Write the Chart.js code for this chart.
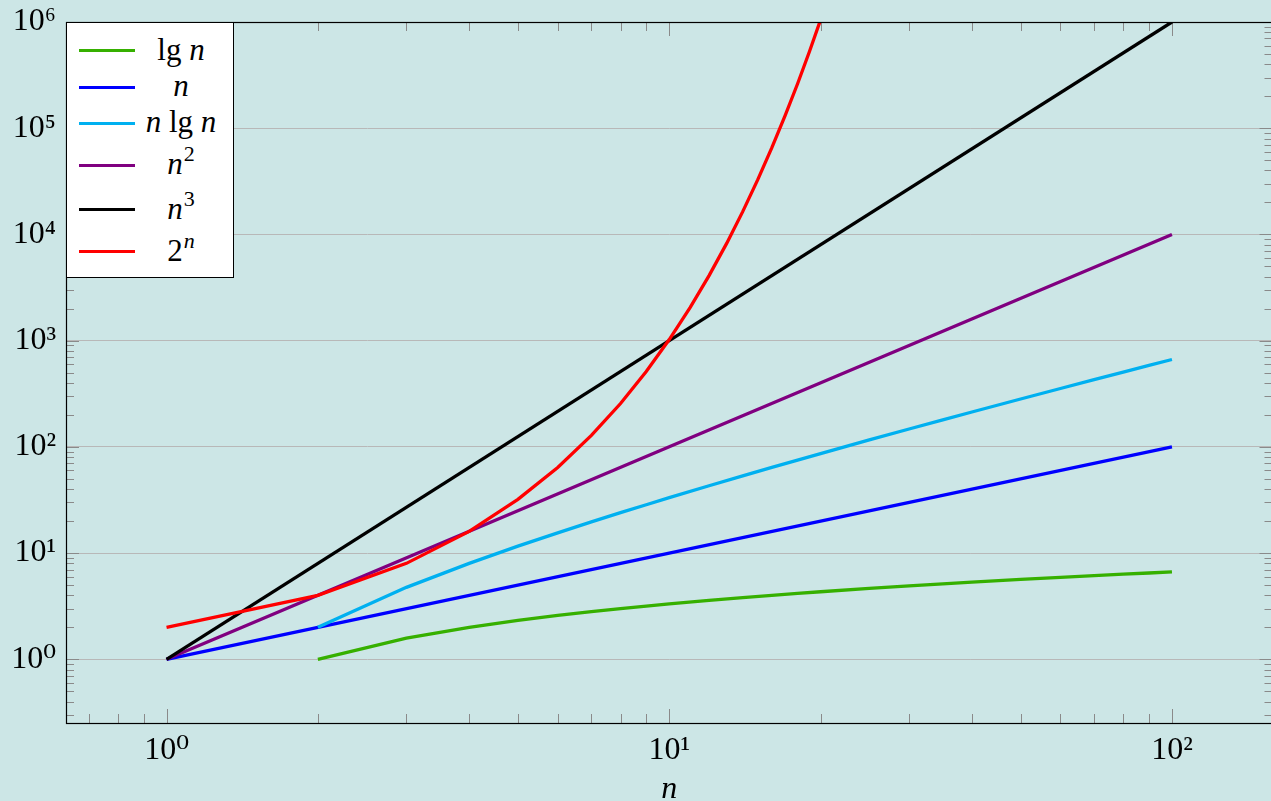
<!DOCTYPE html>
<html>
<head>
<meta charset="utf-8">
<script src="https://cdn.jsdelivr.net/npm/chart.js@4/dist/chart.umd.min.js"></script>
<style>
  html, body { margin:0; padding:0; background:#cce6e6; overflow:hidden; }
  #wrap { position:relative; width:1271px; height:801px; overflow:hidden; }
  #c { position:absolute; left:0; top:0; }
  #legend { position:absolute; left:66px; top:22px; width:166px; height:254px;
            background:#fff; border:1px solid #000; box-sizing:content-box;
            font-family:'Liberation Serif','DejaVu Serif',serif; font-size:31px; color:#000; }
  .row { position:absolute; left:0; width:166px; height:0; }
  .swatch { position:absolute; left:12px; width:56px; height:3px; top:-1.5px; }
  .lab { position:absolute; left:62px; width:104px; text-align:center; top:-20px; line-height:38px; white-space:nowrap; }
  .lab sup { font-size:22px; vertical-align:0; position:relative; top:-13px; margin-left:1px; }
</style>
</head>
<body>
<div id="wrap">
  <canvas id="c" width="1274" height="801"></canvas>
  <div id="legend"></div>
</div>
<script>
// ---- data ----
const seriesNames = ['lg n', 'n', 'n lg n', 'n^2', 'n^3', '2^n'];
const legendHtml = ['lg <i>n</i>', '<i>n</i>', '<i>n</i> lg <i>n</i>', '<i>n</i><sup>2</sup>', '<i>n</i><sup>3</sup>', '2<sup><i>n</i></sup>'];
const seriesColors = ['#36b000', '#0000ff', '#00b0f0', '#800080', '#000000', '#ff0000'];

const nLg = [2,3,4,5,6,7,8,9,10,12,14,16,18,20,25,30,35,40,50,60,70,80,90,100];
const lgValues = [1,1.585,2,2.322,2.585,2.807,3,3.17,3.322,3.585,3.807,4,4.17,4.322,4.644,4.907,5.129,5.322,5.644,5.907,6.129,6.322,6.492,6.644];
const nLinear = [1,10,100];
const linearValues = [1,10,100];
const nNlg = [2,3,4,5,6,7,8,9,10,12,14,16,18,20,25,30,35,40,50,60,70,80,90,100];
const nlgValues = [2,4.755,8,11.61,15.51,19.65,24,28.53,33.22,43.02,53.3,64,75.06,86.44,116.1,147.2,179.5,212.9,282.2,354.4,429.0,505.8,584.3,664.4];
const nSquare = [1,10,100];
const squareValues = [1,100,10000];
const nCube = [1,10,100];
const cubeValues = [1,1000,1000000];
const nExp = [1,2,3,4,5,6,7,8,9,10,11,12,13,14,15,16,17,18,19,20];
const expValues = [2,4,8,16,32,64,128,256,512,1024,2048,4096,8192,16384,32768,65536,131072,262144,524288,1048576];

const xTickValues = [1, 10, 100];
const xTickLabels = ['10\u2070', '10\u00B9', '10\u00B2'];
const yTickValues = [1, 10, 100, 1000, 10000, 100000, 1000000];
const yTickLabels = ['10\u2070', '10\u00B9', '10\u00B2', '10\u00B3', '10\u2074', '10\u2075', '10\u2076'];
const xAxisTitle = 'n';

// ---- chart ----
const xs = [nLg, nLinear, nNlg, nSquare, nCube, nExp];
const ys = [lgValues, linearValues, nlgValues, squareValues, cubeValues, expValues];
const datasets = seriesNames.map((name, i) => ({
  label: name,
  data: xs[i].map((x, j) => ({ x: x, y: ys[i][j] })),
  borderColor: seriesColors[i],
  backgroundColor: seriesColors[i],
  borderWidth: 3.3,
  pointRadius: 0,
  tension: 0,
  fill: false,
  order: seriesNames.length - i
}));

const serif = "'Liberation Serif','DejaVu Serif',serif";

function minorValues(lo, hi) {
  const out = [];
  for (let e = -1; e <= 6; e++) {
    for (let m = 2; m <= 9; m++) {
      const v = m * Math.pow(10, e);
      if (v > lo && v < hi) out.push(v);
    }
  }
  return out;
}

function zeroPad(s) { s.paddingLeft = 0; s.paddingRight = 0; s.paddingTop = 0; s.paddingBottom = 0; }

const decor = {
  id: 'decor',
  beforeDraw(chart) {
    const ctx = chart.ctx;
    ctx.save();
    ctx.fillStyle = '#cce6e6';
    ctx.fillRect(0, 0, chart.width, chart.height);
    ctx.restore();
  },
  beforeDatasetsDraw(chart) {
    const { ctx, chartArea: a, scales: { x, y } } = chart;
    ctx.save();
    ctx.lineWidth = 1;
    ctx.strokeStyle = '#8a8a8a';
    ctx.beginPath();
    for (const v of minorValues(y.min, y.max)) {
      const p = Math.round(y.getPixelForValue(v)) + 0.5;
      ctx.moveTo(a.left, p); ctx.lineTo(a.left + 8, p);
      ctx.moveTo(a.right - 8, p); ctx.lineTo(a.right, p);
    }
    for (const v of minorValues(x.min, x.max)) {
      const p = Math.round(x.getPixelForValue(v)) + 0.5;
      ctx.moveTo(p, a.bottom); ctx.lineTo(p, a.bottom - 9);
      ctx.moveTo(p, a.top); ctx.lineTo(p, a.top + 9);
    }
    for (const v of yTickValues) {
      const p = Math.round(y.getPixelForValue(v)) + 0.5;
      ctx.moveTo(a.left, p); ctx.lineTo(a.left + 13, p);
      ctx.moveTo(a.right - 13, p); ctx.lineTo(a.right, p);
    }
    for (const v of xTickValues) {
      const p = Math.round(x.getPixelForValue(v)) + 0.5;
      ctx.moveTo(p, a.bottom); ctx.lineTo(p, a.bottom - 14);
      ctx.moveTo(p, a.top); ctx.lineTo(p, a.top + 14);
    }
    ctx.stroke();
    ctx.restore();
  },
  afterDatasetsDraw(chart) {
    const { ctx, chartArea: a } = chart;
    ctx.save();
    ctx.strokeStyle = '#000';
    ctx.lineWidth = 1.2;
    ctx.strokeRect(Math.round(a.left) + 0.5, Math.round(a.top) + 0.5, Math.round(a.right - a.left), Math.round(a.bottom - a.top));
    ctx.restore();
  }
};

const chart = new Chart(document.getElementById('c'), {
  type: 'line',
  data: { datasets: datasets },
  plugins: [decor],
  options: {
    responsive: false,
    devicePixelRatio: 1,
    animation: false,
    events: [],
    layout: { padding: { top: 22, right: 1.5, left: 0, bottom: 0 } },
    plugins: { legend: { display: false }, tooltip: { enabled: false } },
    scales: {
      x: {
        type: 'logarithmic',
        bounds: 'data',
        min: Math.pow(10, -0.2),
        max: Math.pow(10, 2.2),
        afterBuildTicks: (s) => { s.ticks = xTickValues.map(v => ({ value: v, major: true })); },
        afterFit: (s) => { s.height = 78; zeroPad(s); },
        grid: { display: false, drawTicks: false },
        border: { display: false },
        ticks: {
          autoSkip: false, maxRotation: 0,
          padding: 8,
          color: '#000',
          font: { family: serif, size: 32 },
          callback: (v, i) => xTickLabels[i]
        },
        title: {
          display: true, text: xAxisTitle, color: '#000',
          font: { family: serif, size: 32, style: 'italic', lineHeight: 0.7 },
          padding: { top: 0, bottom: 0 }
        }
      },
      y: {
        type: 'logarithmic',
        bounds: 'data',
        min: Math.pow(10, -0.6),
        max: 1000000,
        afterBuildTicks: (s) => { s.ticks = yTickValues.map(v => ({ value: v, major: true })); },
        afterFit: (s) => { s.width = 66; zeroPad(s); },
        grid: { display: true, drawTicks: false, color: '#b8b8b8', lineWidth: 1 },
        border: { display: false },
        ticks: {
          autoSkip: false,
          padding: 10,
          color: '#000',
          font: { family: serif, size: 32 },
          callback: (v, i) => yTickLabels[i]
        }
      }
    }
  }
});

// ---- HTML legend (math-formatted labels) ----
const rowCenters = [27.5, 64, 100, 142, 186.5, 228.5];
const legend = document.getElementById('legend');
legendHtml.forEach((html, i) => {
  const row = document.createElement('div');
  row.className = 'row';
  row.style.top = rowCenters[i] + 'px';
  row.innerHTML = '<div class="swatch" style="background:' + seriesColors[i] + '"></div><div class="lab">' + html + '</div>';
  legend.appendChild(row);
});
</script>
</body>
</html>
